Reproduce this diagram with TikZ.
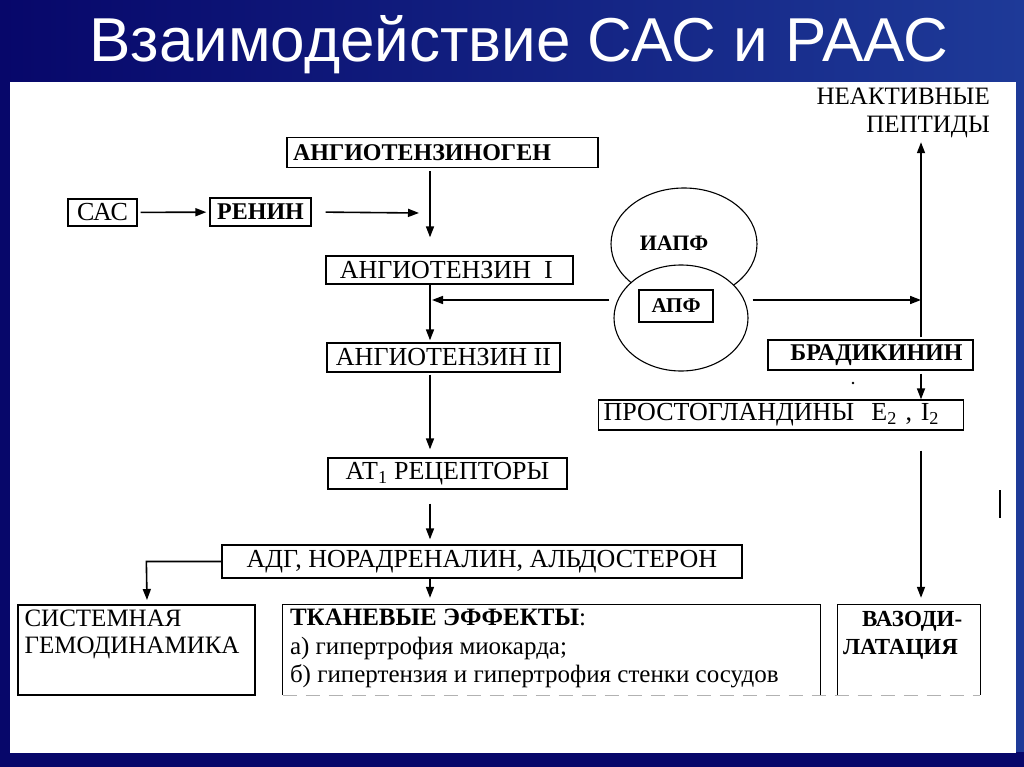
\documentclass[tikz,border=0pt]{standalone}
\usepackage{fontspec}
\setmainfont{Liberation Serif}
\newfontfamily\titlefont{Liberation Sans}
\usetikzlibrary{arrows.meta,calc,shapes.geometric}
\definecolor{slidebg}{HTML}{07076A}
\definecolor{slidehi}{HTML}{1E3A98}

\begin{document}
\begin{tikzpicture}[x=1pt, y=-1pt, >={Triangle[length=11pt,width=8pt]},
    font=\fontsize{26}{28}\selectfont,
    blk/.style 2 args={draw, line width=1.3pt, inner sep=0pt, minimum width=#1, minimum height=#2},
    conn/.style={->, line width=1.6pt},
    enz/.style={draw, ellipse, line width=1.1pt, inner sep=0pt}]
  \useasboundingbox (0,0) rectangle (1024,767);
  % slide background and white panel
  \shade[left color=slidebg, right color=slidehi] (0,0) rectangle (1024,767);
  \fill[slidebg] (0,752) rectangle (1024,767);
  \fill[white] (10,82) rectangle (1016,753);
  \node[anchor=base, text=white, font=\titlefont\fontsize{62}{70}\selectfont] (title) at (519,62)
    {Взаимодействие САС и РААС};
  \def\tr{430}   % main trunk, angiotensin chain
  \def\tp{921}   % bradykinin trunk
  \coordinate (trk) at (\tr,0);
  % ---------------- angiotensin chain
  \node[blk={311}{30}, text width=299, align=left, font=\bfseries\fontsize{24}{26}\selectfont] (agen)
    at (442.5,152.5) {АНГИОТЕНЗИНОГЕН};
  \node[blk={69}{27}] (sas) at (102.5,212.5) {САС};
  \node[blk={101}{28}, font=\bfseries\fontsize{24}{26}\selectfont] (renin) at (260.5,212) {РЕНИН};
  \coordinate (rtip) at (419,213);
  \node[blk={247}{28}] (ang1) at (449.5,270) {АНГИОТЕНЗИН\ \ I\ \ };
  \node[blk={233}{29}] (ang2) at (443.5,357.5) {АНГИОТЕНЗИН II};
  \node[blk={239}{31}] (at1) at (447.5,473.5) {АТ\textsubscript{1} РЕЦЕПТОРЫ};
  \node[blk={520}{33}] (adg) at (482,561.5) {АДГ, НОРАДРЕНАЛИН, АЛЬДОСТЕРОН};
  % ---------------- enzymes
  \node[enz, minimum width=146, minimum height=112] (iapf) at (684,244) {};
  \node[font=\bfseries\fontsize{22}{24}\selectfont] (iapftxt) at (674,243) {ИАПФ};
  \node[enz, fill=white, minimum width=134, minimum height=106] (apfell) at (681,318) {};
  \node[blk={74}{32}, font=\bfseries\fontsize{21}{24}\selectfont] (apf) at (676,306) {АПФ};
  \coordinate (jI) at (432,300);
  \coordinate (jP) at (\tp,300);
  % ---------------- bradykinin branch
  \node[anchor=north east, align=right, inner sep=0pt, font=\fontsize{25}{28}\selectfont] (neact) at (990,88)
    {НЕАКТИВНЫЕ\\ПЕПТИДЫ};
  \node[blk={205}{30}, font=\bfseries\fontsize{24}{26}\selectfont] (brad) at (870.5,355) {\ \ БРАДИКИНИН};
  \node[blk={365}{30}, anchor=west, text width=355, align=left] (prost) at (598,415)
    {ПРОСТОГЛАНДИНЫ\ \ E\textsubscript{2} , I\textsubscript{2}};
  % ---------------- effects
  \node[blk={237}{90}] (sys) at (136.5,650) {};
  \node[anchor=north west, align=left, inner sep=0pt, font=\fontsize{25}{27}\selectfont] (systxt)
    at ($(sys.north west)+(7,5)$) {СИСТЕМНАЯ\\ГЕМОДИНАМИКА};
  \coordinate (sysin) at (147,600);
  \node[minimum width=537, minimum height=90, inner sep=0pt] (tis) at (551.5,650) {};
  \draw[line width=1.3pt] (tis.south west) -- (tis.north west) -- (tis.north east) -- (tis.south east);
  \node[anchor=north west, align=left, inner sep=0pt, font=\fontsize{25}{28.5}\selectfont] (tistxt)
    at ($(tis.north west)+(7,4)$)
    {\textbf{ТКАНЕВЫЕ ЭФФЕКТЫ}:\\а) гипертрофия миокарда;\\б) гипертензия и гипертрофия стенки сосудов};
  \node[minimum width=142, minimum height=90, inner sep=0pt] (vaz) at (909,650) {};
  \draw[line width=1.3pt] (vaz.south west) -- (vaz.north west) -- (vaz.north east) -- (vaz.south east);
  \node[anchor=north west, align=left, inner sep=0pt, font=\bfseries\fontsize{23}{28}\selectfont] (vaztxt)
    at ($(vaz.north west)+(5,6)$) {\hspace*{19pt}ВАЗОДИ-\\ЛАТАЦИЯ};
  \draw[gray!60, line width=0.8pt, dash pattern=on 14pt off 9pt] (tis.south west) -- (vaz.south east);
  % ---------------- connectors
  \draw[conn, shorten <=3pt, shorten >=3pt] (sas) -- (renin);
  \draw[conn, shorten <=14pt] (renin.east) -- (rtip);
  \draw[conn, shorten <=3pt, shorten >=18pt] (agen.south -| trk) -- (ang1.north -| trk);
  \draw[conn, shorten >=2pt] (ang1.south -| trk) -- (ang2.north -| trk);
  \draw[conn, shorten <=4pt] (apfell.west |- jI) -- (jI);
  \draw[conn, shorten <=4pt] (apfell.east |- jP) -- (jP);
  \draw[conn, shorten <=2pt, shorten >=4pt] (brad.north -| jP) -- (neact.south -| jP);
  \draw[conn, shorten <=3pt] (brad.south -| jP) -- (prost.north -| jP);
  \draw[conn, shorten <=20pt, shorten >=7pt] (prost.south -| jP) -- (vaz.north -| jP);
  \draw[conn, shorten <=2pt, shorten >=8pt] (ang2.south -| trk) -- (at1.north -| trk);
  \draw[conn, shorten <=14pt, shorten >=5pt] (at1.south -| trk) -- (adg.north -| trk);
  \draw[conn] (adg.west) -- ++(-75,0) -- (sysin);
  \draw[conn, shorten >=7pt] (adg.south -| trk) -- (tis.north -| trk);
  % scan marks
  \fill (853,383) circle (1.3pt);
  \draw[line width=1.4pt] (1000,490) -- (1000,518);
\end{tikzpicture}
\end{document}
